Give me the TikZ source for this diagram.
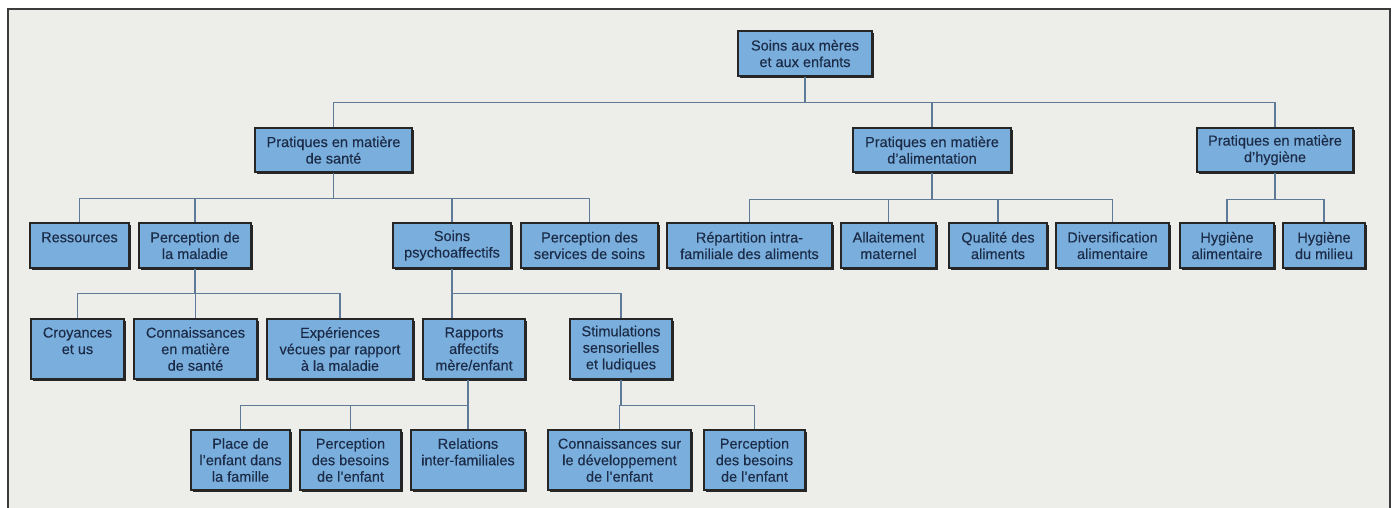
\documentclass[tikz,border=0pt]{standalone}
\usepackage{fontspec}
\setmainfont{Liberation Sans}[UprightFeatures={FakeBold=0.3}]
\usetikzlibrary{shadows}
\definecolor{boxfill}{RGB}{122,174,220}
\definecolor{boxtext}{RGB}{28,44,72}
\definecolor{conncol}{RGB}{95,122,150}
\definecolor{paper}{RGB}{237,237,234}
\definecolor{framecol}{RGB}{60,60,60}
\newcommand\mybox[6]{\node[box, minimum width=#4pt, minimum height=#5pt] (#1) at (#2,#3) {#6};}
\begin{document}
\begin{tikzpicture}[x=1pt,y=-1pt,
  box/.style={draw=black!85, line width=1.1pt, fill=boxfill, text=boxtext, align=center, inner sep=0pt,
    font=\fontsize{14.5}{16.5}\selectfont,
    drop shadow={shadow xshift=1.6pt, shadow yshift=-1.6pt, fill=black!85, opacity=1}},
  conn/.style={draw=conncol, line width=1.3pt}]
\useasboundingbox (0,0) rectangle (1397,508);
\fill[white] (0,0) rectangle (1397,508);
\fill[paper] (8,9) rectangle (1390,508);
\draw[framecol, line width=1.2pt] (8,508) -- (8,9) -- (1390,9) -- (1390,508);

% level 0
\mybox{root}{805}{53.5}{134}{45}{Soins aux mères\\et aux enfants}
% level 1
\mybox{sante}{333.5}{150}{157}{44}{Pratiques en matière\\de santé}
\mybox{alim}{932}{150}{158}{44}{Pratiques en matière\\d'alimentation}
\mybox{hyg}{1275}{150}{156}{44}{Pratiques en matière\\d'hygiène}
% level 2
\mybox{ress}{79.5}{245.5}{99}{45}{Ressources\\\mbox{}}
\mybox{percmal}{195}{245.5}{112}{45}{Perception de\\la maladie}
\mybox{psycho}{452}{245.5}{118}{45}{Soins\\psychoaffectifs}
\mybox{percserv}{589.5}{245.5}{137}{45}{Perception des\\services de soins}
\mybox{repart}{749.5}{245.5}{165}{45}{Répartition intra-\\familiale des aliments}
\mybox{allait}{888.5}{245.5}{95}{45}{Allaitement\\maternel}
\mybox{qualite}{998}{245.5}{98}{45}{Qualité des\\aliments}
\mybox{divers}{1112.5}{245.5}{113}{45}{Diversification\\alimentaire}
\mybox{hygal}{1227}{245.5}{94}{45}{Hygiène\\alimentaire}
\mybox{hygmil}{1324}{245.5}{82}{45}{Hygiène\\du milieu}
% level 3
\mybox{croy}{77.5}{349}{93}{60}{Croyances\\et us\\\mbox{}}
\mybox{conn}{195.5}{349}{123}{60}{Connaissances\\en matière\\de santé}
\mybox{exper}{340}{349}{146}{60}{Expériences\\vécues par rapport\\à la maladie}
\mybox{rapports}{474}{349}{102}{60}{Rapports\\affectifs\\mère/enfant}
\mybox{stimul}{621}{349}{102}{60}{Stimulations\\sensorielles\\et ludiques}
% level 4
\mybox{place}{240.5}{460}{99}{60}{Place de\\l'enfant dans\\la famille}
\mybox{percbes}{350.5}{460}{101}{60}{Perception\\des besoins\\de l'enfant}
\mybox{relat}{468}{460}{114}{60}{Relations\\inter-familiales\\\mbox{}}
\mybox{connsur}{619.5}{460}{143}{60}{Connaissances sur\\le développement\\de l'enfant}
\mybox{percbes2}{754.5}{460}{101}{60}{Perception\\des besoins\\de l'enfant}

% connectors
\foreach \c in {sante,alim,hyg} \draw[conn] (root.south) -- ++(0,26) -| (\c.north);
\foreach \c in {ress,percmal,psycho,percserv} \draw[conn] (sante.south) -- ++(0,26) -| (\c.north);
\foreach \c in {repart,allait,qualite,divers} \draw[conn] (alim.south) -- ++(0,27) -| (\c.north);
\foreach \c in {hygal,hygmil} \draw[conn] (hyg.south) -- ++(0,27) -| (\c.north);
\foreach \c in {croy,conn,exper} \draw[conn] (percmal.south) -- ++(0,25) -| (\c.north);
\draw[conn] (psycho.south) -- (psycho.south |- rapports.north);
\draw[conn] (psycho.south) -- ++(0,25) -| (stimul.north);
\foreach \c in {place,percbes} \draw[conn] (relat.north |- rapports.south) -- ++(0,26) -| (\c.north);
\draw[conn] (relat.north |- rapports.south) -- (relat.north);
\foreach \c in {connsur,percbes2} \draw[conn] (stimul.south) -- ++(0,26) -| (\c.north);
\end{tikzpicture}
\end{document}
